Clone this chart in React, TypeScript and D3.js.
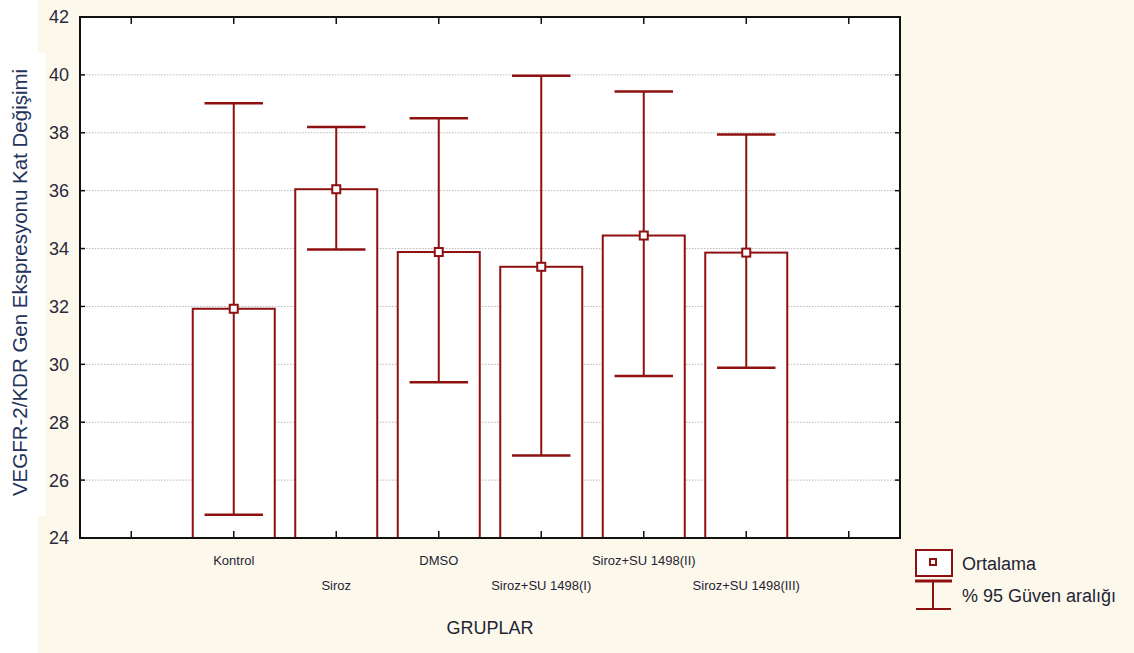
import React from 'react';
import * as d3 from 'd3';

// groups and their values
const groups = ['Kontrol', 'Siroz', 'DMSO', 'Siroz+SU 1498(I)', 'Siroz+SU 1498(II)', 'Siroz+SU 1498(III)'];
const means = [31.92, 36.05, 33.88, 33.37, 34.45, 33.86];
const upper = [39.02, 38.2, 38.5, 39.97, 39.43, 37.94];
const lower = [24.8, 33.97, 29.38, 26.85, 29.6, 29.88];
const yTicks = [24, 26, 28, 30, 32, 34, 36, 38, 40, 42];

const W = 1134, H = 653;
const left = 80, right = 900, top = 17, bottom = 538;
const red = '#8e1010';
const font = '"Liberation Sans Narrow", "Liberation Sans", Arial, sans-serif';

const App = () => {
  const y = d3.scaleLinear().domain([24, 42]).range([bottom, top]);
  // 8 slots, the first and last stay empty
  const x = d3.scaleLinear().domain([-0.5, 7.5]).range([left, right]);
  const slot = x(1) - x(0);
  const barW = slot * 0.8;
  const capW = slot * 0.57;
  const xTicks = d3.range(8);

  return (
    <svg width={W} height={H} style={{ position: 'absolute', left: 0, top: 0 }}>
      <rect x={38} y={0} width={W - 38} height={H} fill="#fdf8ec" />
      <rect x={0} y={53} width={46} height={463} fill="#ffffff" />
      <rect x={left} y={top} width={right - left} height={bottom - top} fill="#ffffff" />

      {/* grid */}
      {yTicks.slice(1, -1).map(t => (
        <line key={'g' + t} x1={left} x2={right} y1={y(t)} y2={y(t)}
          stroke="#b8b8b8" strokeWidth={1} strokeDasharray="1.5,1.5" />
      ))}

      {/* bars */}
      {groups.map((g, i) => (
        <rect key={'b' + g} x={x(i + 1) - barW / 2} y={y(means[i])} width={barW}
          height={y(24) - y(means[i])} fill="#ffffff" stroke={red} strokeWidth={2} />
      ))}

      {/* confidence intervals */}
      {groups.map((g, i) => (
        <g key={'e' + g} stroke={red}>
          <line x1={x(i + 1)} x2={x(i + 1)} y1={y(upper[i])} y2={y(lower[i])} strokeWidth={2} />
          <line x1={x(i + 1) - capW / 2} x2={x(i + 1) + capW / 2} y1={y(upper[i])} y2={y(upper[i])} strokeWidth={2.5} />
          <line x1={x(i + 1) - capW / 2} x2={x(i + 1) + capW / 2} y1={y(lower[i])} y2={y(lower[i])} strokeWidth={2.5} />
          <rect x={x(i + 1) - 4} y={y(means[i]) - 4} width={8} height={8} fill="#ffffff" strokeWidth={2} />
        </g>
      ))}

      {/* frame and ticks */}
      <rect x={left} y={top} width={right - left} height={bottom - top} fill="none" stroke="#111" strokeWidth={2} />
      {yTicks.map(t => (
        <g key={'t' + t}>
          <line x1={left} x2={left + 5} y1={y(t)} y2={y(t)} stroke="#111" strokeWidth={1.5} />
          <line x1={right - 5} x2={right} y1={y(t)} y2={y(t)} stroke="#111" strokeWidth={1.5} />
          <text x={69} y={y(t)} dy="0.36em" textAnchor="end" fontFamily={font} fontSize={18}
            fill="#2a2a3a">{t}</text>
        </g>
      ))}
      {xTicks.map(t => (
        <g key={'x' + t}>
          <line x1={x(t)} x2={x(t)} y1={bottom} y2={bottom - 7} stroke="#111" strokeWidth={1.5} />
          <line x1={x(t)} x2={x(t)} y1={top} y2={top + 7} stroke="#111" strokeWidth={1.5} />
        </g>
      ))}

      {/* category labels, alternating rows */}
      {groups.map((g, i) => (
        <text key={'l' + g} x={x(i + 1)} y={i % 2 === 0 ? 565 : 590} textAnchor="middle"
          fontFamily={font} fontSize={13} fill="#1e2433">{g}</text>
      ))}

      <text x={490} y={634} textAnchor="middle" fontFamily={font} fontSize={18} fill="#1e2433">GRUPLAR</text>
      <text transform={`translate(27,${(60 + 505) / 2}) rotate(-90)`} textAnchor="middle"
        fontFamily={font} fontSize={20.5} fill="#24335a">VEGFR-2/KDR Gen Ekspresyonu Kat Değişimi</text>

      {/* legend */}
      <rect x={916} y={550} width={36} height={26} fill="#ffffff" stroke={red} strokeWidth={2} />
      <rect x={930} y={559} width={6} height={6} fill="#ffffff" stroke={red} strokeWidth={2} />
      <text x={962} y={570} fontFamily={font} fontSize={18} fill="#1e2433">Ortalama</text>
      <line x1={915} x2={952} y1={581} y2={581} stroke={red} strokeWidth={3} />
      <line x1={933} x2={933} y1={581} y2={609} stroke={red} strokeWidth={2} />
      <line x1={916} x2={951} y1={609} y2={609} stroke={red} strokeWidth={2} />
      <text x={962} y={602} fontFamily={font} fontSize={18} fill="#1e2433">% 95 Güven aralığı</text>
    </svg>
  );
};

export default App;
